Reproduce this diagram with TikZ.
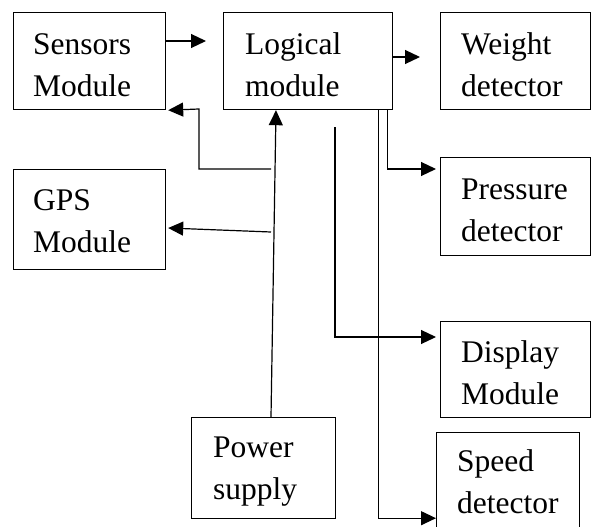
\documentclass[tikz,border=0pt]{standalone}
\usepackage{fontspec}
\setmainfont{Liberation Serif}
\usetikzlibrary{arrows.meta,calc}
\tikzset{
  blk/.style={draw, line width=1.2pt, rectangle, inner sep=0pt, anchor=north west},
  lbl/.style={anchor=base west, inner sep=0pt, align=left, font=\fontsize{31.5}{42}\selectfont},
  arr/.style={line width=1.2pt, -{Triangle[length=15pt,width=14pt]}},
  ln/.style={line width=1.2pt}
}
\begin{document}
\begin{tikzpicture}[x=1pt,y=-1pt]
\clip (0,0) rectangle (592,527);
% boxes
\node[blk, minimum width=152pt, minimum height=97pt] (sensors) at (13,12) {};
\node[blk, minimum width=169pt, minimum height=97pt] (logical) at (223,12) {};
\node[blk, minimum width=150pt, minimum height=97pt] (weight) at (440,12) {};
\node[blk, minimum width=150pt, minimum height=98pt] (pressure) at (440,157) {};
\node[blk, minimum width=152pt, minimum height=100pt] (gps) at (13,169) {};
\node[blk, minimum width=150pt, minimum height=96pt] (display) at (440,321) {};
\node[blk, minimum width=144pt, minimum height=101pt] (power) at (191,417) {};
\node[blk, minimum width=143pt, minimum height=110pt] (speed) at (436,432) {};
% labels (anchor at baseline of the second line)
\node[lbl] (sensorsT) at (33,96) {Sensors\\Module};
\node[lbl] (logicalT) at (245,96) {Logical\\module};
\node[lbl] (weightT) at (461,96) {Weight\\detector};
\node[lbl] (pressureT) at (461,241) {Pressure\\detector};
\node[lbl] (gpsT) at (33,252) {GPS\\Module};
\node[lbl] (displayT) at (461,404) {Display\\Module};
\node[lbl] (powerT) at (213,499) {Power\\supply};
\node[lbl] (speedT) at (457,513) {Speed\\detector};
% free ends
\coordinate (dispstart) at (335,127);
\coordinate (sensret) at (271,169);
\coordinate (gpsret) at (271,232);
% connectors
\draw[arr] ($(sensors.north east)+(0,29)$) -- ($(logical.north west)+(-17,29)$);
\draw[arr] ($(logical.north east)+(0,45)$) -- ($(weight.north west)+(-20,45)$);
\draw[arr] ($(logical.south east)+(-6,0)$) |- ($(pressure.north west)+(-4,12)$);
\draw[arr] ($(logical.south east)+(-15,0)$) |- ($(speed.south west)+(0,-25)$);
\draw[arr] (dispstart) |- ($(display.north west)+(-4,16)$);
\draw[arr] ($(power.north west)+(80,0)$) -- ($(logical.south west)+(53,0)$);
\draw[arr] (sensret) -| (199,109) -- ($(sensors.south east)+(2,0)$);
\draw[arr] (gpsret) -- ($(gps.north east)+(2,59)$);
\end{tikzpicture}
\end{document}
